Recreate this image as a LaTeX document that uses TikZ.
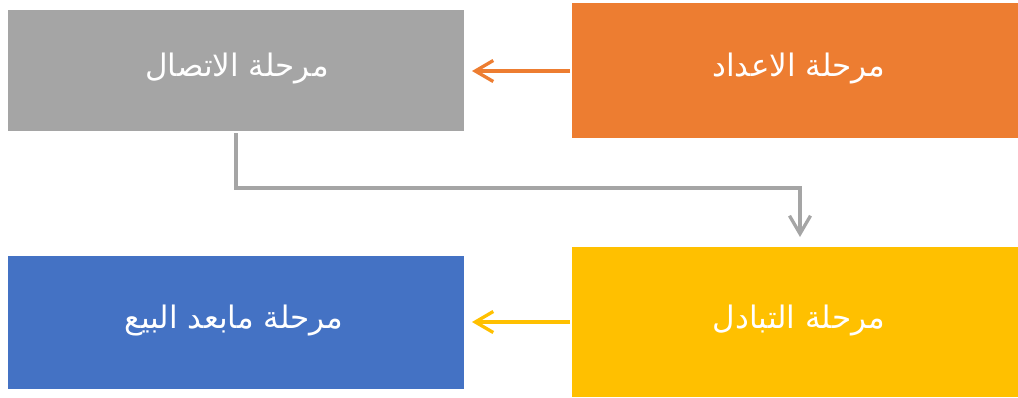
\documentclass[tikz,border=0pt]{standalone}
\usepackage{fontspec}
\usetikzlibrary{arrows.meta}
\newfontfamily\arabicfont[Script=Arabic]{DejaVu Sans}
\TeXXeTstate=1
\definecolor{stageGray}{HTML}{A5A5A5}
\definecolor{stageOrange}{HTML}{ED7D31}
\definecolor{stageBlue}{HTML}{4472C4}
\definecolor{stageGold}{HTML}{FFC000}
\tikzset{
  stagebox/.style={draw=none, inner sep=0pt, outer sep=0pt, anchor=north west},
  stagelabel/.style={text=white, font=\arabicfont\fontsize{31}{36}\selectfont},
  flow/.style={line width=3.3pt, -{Straight Barb[length=18pt,width=21pt,line width=3.3pt]}},
}
\begin{document}
\begin{tikzpicture}[x=1pt,y=-1pt]
  \useasboundingbox (0,0) rectangle (1018,397);
  % stage boxes
  \node[stagebox, fill=stageGray, minimum width=456pt, minimum height=121pt] (connect) at (8,10) {};
  \node[stagebox, fill=stageOrange, minimum width=446pt, minimum height=135pt] (prepare) at (572,3) {};
  \node[stagebox, fill=stageBlue, minimum width=456pt, minimum height=133pt] (after) at (8,256) {};
  \node[stagebox, fill=stageGold, minimum width=446pt, minimum height=150pt] (exchange) at (572,247) {};
  % labels
  \node[stagelabel] (connectText) at (237,69) {\beginR مرحلة الاتصال\endR};
  \node[stagelabel] (prepareText) at (799,69) {\beginR مرحلة الاعداد\endR};
  \node[stagelabel] (afterText) at (234,321) {\beginR مرحلة مابعد البيع\endR};
  \node[stagelabel] (exchangeText) at (799,321) {\beginR مرحلة التبادل\endR};
  % connectors
  \coordinate (prepareL) at (570,71);
  \coordinate (connectR) at (472,71);
  \draw[flow, draw=stageOrange] (prepareL) -- (connectR);
  \coordinate (exchangeL) at (570,322);
  \coordinate (afterR) at (472,322);
  \draw[flow, draw=stageGold] (exchangeL) -- (afterR);
  \coordinate (connectB) at (236,133);
  \coordinate (exchangeT) at (800,237);
  \draw[flow, draw=stageGray] (connectB) |- (800,188) -- (exchangeT);
\end{tikzpicture}
\end{document}
